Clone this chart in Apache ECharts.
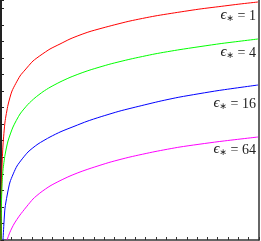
<!DOCTYPE html>
<html>
<head>
<meta charset="utf-8">
<script src="https://cdn.jsdelivr.net/npm/echarts@6/dist/echarts.min.js"></script>
<style>html,body{margin:0;padding:0;background:#fff}#c{width:261px;height:241px}</style>
</head>
<body>
<div id="c"></div>
<script>
// Curve data (arbitrary units: x 0..258, y 0..240)
const redX = [0, 0.3, 1, 2, 4, 7, 11, 19, 24, 32, 40, 49, 59, 69, 79, 89, 109, 129, 154, 179, 199, 219, 239, 257];
const redY = [0, 30, 72, 95, 118, 135, 149, 164, 170, 179, 185, 191, 196, 201, 205, 208.5, 214, 219, 224, 228, 231, 233.5, 236, 238];
const greenX = [0, 0.3, 1, 2, 4, 7, 12, 19, 27, 34, 42, 49, 59, 69, 79, 89, 109, 129, 154, 179, 219, 239, 257];
const greenY = [0, 30, 55, 70, 85, 99, 113, 126, 135.7, 142.2, 148.3, 152.7, 158, 162.6, 166.5, 170, 175.9, 180.8, 186.1, 190.4, 196.3, 198.8, 201];
const blueX = [2, 3, 4, 6, 9, 16, 27, 37, 49, 60, 74, 86, 99, 119, 139, 159, 179, 217, 257];
const blueY = [0, 18, 32, 44, 58, 74, 88, 96, 103, 108.4, 114, 118.7, 123, 129, 134, 138.8, 143, 149.4, 155];
const magX = [6, 9, 13, 19, 32, 40, 49, 59, 69, 79, 89, 109, 129, 154, 179, 217, 257];
const magY = [0, 8, 16, 25, 41, 47.8, 54, 59.3, 64, 68, 71.5, 77.8, 83, 88.4, 93, 98.3, 103];
const eps = ['1', '4', '16', '64'];
const labelX = 255;
const labelY = [225, 188, 137, 91];

const colors = ['#ff0000', '#00ff00', '#0000ff', '#ff00ff'];
const xs = [redX, greenX, blueX, magX];
const ys = [redY, greenY, blueY, magY];

const rich = {
  e: {fontSize: 15, fontFamily: 'Liberation Serif', fontStyle: 'italic', color: '#222', lineHeight: 16, verticalAlign: 'bottom'},
  s: {fontSize: 9, fontFamily: 'DejaVu Sans', color: '#222', lineHeight: 12, verticalAlign: 'bottom'},
  t: {fontSize: 14, fontFamily: 'Liberation Serif', color: '#222', lineHeight: 16, verticalAlign: 'bottom'}
};

const series = xs.map((xa, i) => ({
  type: 'line',
  smooth: 0.2,
  showSymbol: false,
  silent: true,
  lineStyle: {color: colors[i], width: 1},
  data: xa.map((x, j) => [x, ys[i][j]]),
  markPoint: {
    symbol: 'circle',
    symbolSize: 0,
    silent: true,
    data: [{coord: [labelX, labelY[i]]}],
    label: {
      show: true,
      position: 'left',
      distance: 0,
      formatter: '{e|ϵ}{s|∗}{t| = ' + eps[i] + '}',
      rich: rich
    }
  }
}));

const chart = echarts.init(document.getElementById('c'));
chart.setOption({
  animation: false,
  grid: {left: 1, right: 2, top: 0, bottom: 1, containLabel: false},
  xAxis: {
    type: 'value', min: 0, max: 258, interval: 10.32,
    axisLine: {show: true, lineStyle: {color: '#333', width: 1.5}},
    axisTick: {show: true, inside: true, length: 3, lineStyle: {color: '#333'}},
    axisLabel: {show: false}, splitLine: {show: false}
  },
  yAxis: [{
    type: 'value', min: 0, max: 240, interval: 16.55,
    axisLine: {show: true, lineStyle: {color: '#222', width: 2}},
    axisTick: {show: true, inside: true, length: 3, lineStyle: {color: '#222'}},
    axisLabel: {show: false}, splitLine: {show: false}
  }, {
    type: 'value', min: 0, max: 240, interval: 16.55, position: 'right',
    axisLine: {show: true, lineStyle: {color: '#333', width: 1.5}},
    axisTick: {show: false},
    axisLabel: {show: false}, splitLine: {show: false}
  }],
  series: series
});
</script>
</body>
</html>
